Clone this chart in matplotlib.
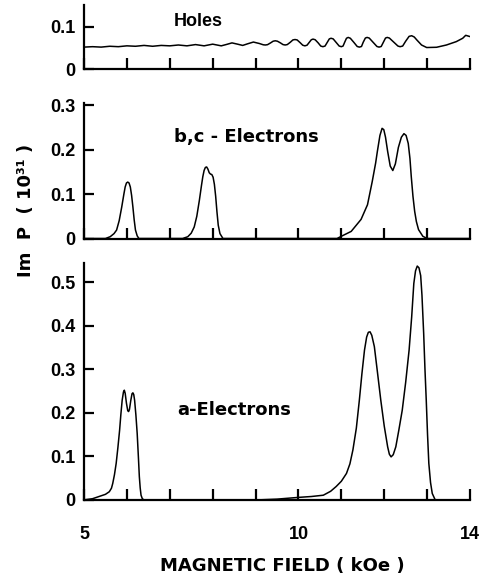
import matplotlib
matplotlib.use("Agg")
import matplotlib.pyplot as plt

# ---------------- data ----------------
holes_x = [5.0, 5.2, 5.4, 5.6, 5.8, 6.0, 6.2, 6.4, 6.6, 6.8, 7.0, 7.2, 7.4, 7.6,
           7.8, 8.0, 8.2, 8.33, 8.45, 8.58, 8.7, 8.82, 8.95, 9.09, 9.18, 9.23,
           9.28, 9.35, 9.41, 9.46, 9.51, 9.58, 9.64, 9.69, 9.74, 9.81, 9.87, 9.92,
           9.97, 10.04, 10.1, 10.15, 10.2, 10.25, 10.3, 10.34, 10.39, 10.46, 10.52,
           10.57, 10.62, 10.67, 10.72, 10.76, 10.81, 10.88, 10.95, 11.0, 11.04,
           11.08, 11.12, 11.16, 11.21, 11.29, 11.37, 11.42, 11.47, 11.51, 11.56,
           11.6, 11.65, 11.74, 11.83, 11.88, 11.93, 11.98, 12.03, 12.07, 12.12,
           12.22, 12.32, 12.37, 12.43, 12.5, 12.58, 12.64, 12.7, 12.76, 12.87,
           12.99, 13.22, 13.45, 13.68, 13.83, 13.9, 14.0]
holes_y = [0.052, 0.053, 0.052, 0.054, 0.053, 0.055, 0.054, 0.056, 0.054, 0.056,
           0.055, 0.057, 0.055, 0.058, 0.055, 0.059, 0.055, 0.0585, 0.062, 0.059,
           0.056, 0.060, 0.064, 0.0605, 0.0575, 0.057, 0.0578, 0.062, 0.066, 0.067,
           0.066, 0.062, 0.058, 0.057, 0.058, 0.0635, 0.069, 0.070, 0.069, 0.0625,
           0.0565, 0.055, 0.0565, 0.063, 0.0695, 0.071, 0.0695, 0.062, 0.0545,
           0.053, 0.0545, 0.063, 0.0715, 0.073, 0.0715, 0.063, 0.0545, 0.053,
           0.0545, 0.064, 0.073, 0.075, 0.073, 0.0635, 0.0535, 0.052, 0.0535,
           0.0635, 0.0735, 0.075, 0.0735, 0.0635, 0.0535, 0.052, 0.0535, 0.0635,
           0.0735, 0.075, 0.0735, 0.064, 0.0545, 0.053, 0.0545, 0.066, 0.0775,
           0.079, 0.076, 0.069, 0.057, 0.051, 0.0516, 0.057, 0.065, 0.073, 0.080,
           0.077]

bc_x = [5.0, 5.5, 5.61, 5.7, 5.76, 5.82, 5.88, 5.93, 5.96, 5.99, 6.02, 6.05, 6.08,
        6.11, 6.14, 6.17, 6.2, 6.24, 6.28,
        7.3, 7.42, 7.5, 7.57, 7.63, 7.69, 7.74, 7.77, 7.8, 7.83, 7.86, 7.89, 7.92,
        7.95, 7.98, 8.01, 8.04, 8.07, 8.1, 8.13, 8.17, 8.24,
        10.9, 11.0, 11.23, 11.46, 11.61, 11.72, 11.8, 11.84, 11.9, 11.95, 11.99,
        12.03, 12.08, 12.14, 12.2, 12.26, 12.33, 12.4, 12.46, 12.51, 12.56, 12.6,
        12.63, 12.67, 12.71, 12.75, 12.8, 12.9, 13.0, 14.0]
bc_y = [0.0, 0.0, 0.004, 0.011, 0.019, 0.040, 0.071, 0.100, 0.116, 0.125, 0.127,
        0.125, 0.116, 0.097, 0.071, 0.042, 0.019, 0.006, 0.0,
        0.0, 0.004, 0.012, 0.026, 0.050, 0.086, 0.120, 0.139, 0.153, 0.160, 0.161,
        0.156, 0.148, 0.145, 0.144, 0.138, 0.122, 0.095, 0.060, 0.030, 0.011, 0.0,
        0.0, 0.005, 0.016, 0.043, 0.076, 0.128, 0.170, 0.196, 0.232, 0.248, 0.245,
        0.228, 0.196, 0.163, 0.153, 0.168, 0.205, 0.228, 0.236, 0.232, 0.214, 0.180,
        0.140, 0.095, 0.061, 0.038, 0.020, 0.005, 0.0, 0.0]

a_x = [5.0, 5.2, 5.35, 5.5, 5.59, 5.64, 5.67, 5.71, 5.75, 5.79, 5.83, 5.86, 5.89,
       5.92, 5.94, 5.96, 5.99, 6.02, 6.04, 6.06, 6.09, 6.12, 6.14, 6.16, 6.18,
       6.21, 6.24, 6.27, 6.29, 6.31, 6.33, 6.36, 6.4,
       9.0, 9.5, 10.0, 10.3, 10.58, 10.75, 10.88, 11.0, 11.12, 11.2, 11.27, 11.35,
       11.42, 11.48, 11.54, 11.59, 11.63, 11.67, 11.71, 11.77, 11.84, 11.92, 12.0,
       12.08, 12.12, 12.16, 12.21, 12.27, 12.34, 12.42, 12.5, 12.58, 12.64, 12.69,
       12.73, 12.77, 12.81, 12.85, 12.88, 12.92, 12.95, 12.98, 13.01, 13.04, 13.08,
       13.12, 13.19, 14.0]
a_y = [0.0, 0.003, 0.008, 0.013, 0.019, 0.027, 0.038, 0.058, 0.084, 0.120, 0.160,
       0.197, 0.229, 0.248, 0.252, 0.245, 0.222, 0.205, 0.203, 0.208, 0.228, 0.244,
       0.246, 0.242, 0.229, 0.195, 0.153, 0.095, 0.054, 0.028, 0.011, 0.003, 0.0,
       0.0, 0.002, 0.006, 0.008, 0.011, 0.020, 0.031, 0.043, 0.061, 0.083, 0.115,
       0.165, 0.229, 0.290, 0.344, 0.374, 0.385, 0.386, 0.378, 0.352, 0.295, 0.229,
       0.170, 0.122, 0.105, 0.099, 0.104, 0.122, 0.160, 0.206, 0.270, 0.344, 0.420,
       0.497, 0.526, 0.537, 0.533, 0.515, 0.470, 0.382, 0.300, 0.229, 0.150, 0.084,
       0.040, 0.015, 0.0, 0.0]

x_ticks = [5, 6, 7, 8, 9, 10, 11, 12, 13, 14]
x_ticklabels = ["5", "", "", "", "", "10", "", "", "", "14"]
holes_yticks = [0, 0.1]
bc_yticks = [0, 0.1, 0.2, 0.3]
a_yticks = [0, 0.1, 0.2, 0.3, 0.4, 0.5]

# ---------------- figure ----------------
W, H = 482, 579
fig = plt.figure(figsize=(W / 100, H / 100), dpi=100)

tick_font = dict(family="Liberation Sans", weight="bold", size=13)
txt_font = dict(family="DejaVu Sans", weight="bold", size=13)

def px_axes(left, right, top, bottom):
    return fig.add_axes([left / W, 1 - bottom / H, (right - left) / W, (bottom - top) / H])

ax_h = px_axes(84, 470, 5, 69)
ax_bc = px_axes(84, 470, 103, 238.5)
ax_a = px_axes(84, 470, 263, 500)

panels = [
    (ax_h, holes_x, holes_y, holes_yticks, 0.152),
    (ax_bc, bc_x, bc_y, bc_yticks, 0.305),
    (ax_a, a_x, a_y, a_yticks, 0.544),
]
for ax, xs, ys, yt, ytop in panels:
    ax.plot(xs, ys, color="black", lw=1.1, solid_joinstyle="round")
    ax.set_xlim(5, 14)
    ax.set_ylim(0, ytop)
    for s in ("top", "right"):
        ax.spines[s].set_visible(False)
    for s in ("left", "bottom"):
        ax.spines[s].set_linewidth(1.6)
    ax.set_xticks(x_ticks)
    ax.set_yticks(yt)
    ax.set_yticklabels([("0" if v == 0 else f"{v:.1f}") for v in yt], fontdict=tick_font)
    ax.tick_params(axis="both", direction="in", length=7, width=1.6, pad=6)
    ax.tick_params(axis="x", length=8)
    ax.set_facecolor("none")

for ax in (ax_h, ax_bc):
    ax.set_xticklabels([""] * len(x_ticks))
ax_a.set_xticklabels(x_ticklabels, fontdict=tick_font)
ax_a.tick_params(axis="x", pad=19)

ax_h.text(7.66, 0.112, "Holes", ha="center", va="center", family="Liberation Sans",
          weight="bold", size=13)
ax_bc.text(8.78, 0.229, "b,c - Electrons", ha="center", va="center", **txt_font)
ax_a.text(8.5, 0.206, "a-Electrons", ha="center", va="center", **txt_font)

fig.text(282 / W, 1 - 566 / H, "MAGNETIC FIELD ( kOe )", ha="center", va="center", **txt_font)
fig.text(26 / W, 1 - 210 / H, "Im  P  ( 10³¹ )", ha="center", va="center",
         rotation=90, **txt_font)

fig.savefig("out.png", dpi=100)
